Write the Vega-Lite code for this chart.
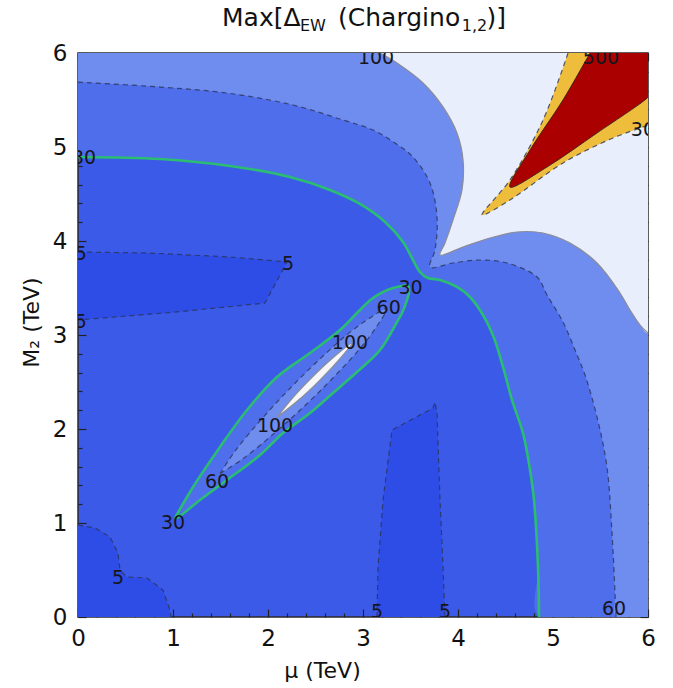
{
  "$schema": "https://vega.github.io/schema/vega-lite/v6.json",
  "width": 570,
  "height": 564,
  "autosize": {"type": "none"},
  "padding": {"left": 78, "top": 53, "right": 25, "bottom": 71},
  "background": "white",
  "config": {
    "view": {"stroke": "#2a2a2a", "strokeWidth": 1.5, "fill": "#3c5ae8"},
    "font": "DejaVu Sans",
    "axis": {"domain": false, "grid": false, "tickColor": "#222222", "tickWidth": 1.2, "labelFont": "DejaVu Sans", "labelFontSize": 23, "labelColor": "#111111", "titleFont": "DejaVu Sans", "titleFontSize": 22, "titleFontWeight": "normal", "titleColor": "#111111"}
  },
  "datasets": {
    "poly": [
      {"g":"a5","lvl":"lt5","i":0,"mu":0,"m2":3.883,"k":1},
      {"g":"a5","lvl":"lt5","i":1,"mu":0.758,"m2":3.872,"k":1},
      {"g":"a5","lvl":"lt5","i":2,"mu":1.6,"m2":3.83,"k":1},
      {"g":"a5","lvl":"lt5","i":3,"mu":2.2,"m2":3.777,"k":1},
      {"g":"a5","lvl":"lt5","i":4,"mu":1.968,"m2":3.34,"k":1},
      {"g":"a5","lvl":"lt5","i":5,"mu":1.042,"m2":3.245,"k":1},
      {"g":"a5","lvl":"lt5","i":6,"mu":0,"m2":3.16,"k":1},
      {"g":"b5","lvl":"lt5","i":0,"mu":0,"m2":0.979,"k":1},
      {"g":"b5","lvl":"lt5","i":1,"mu":0.179,"m2":0.947,"k":1},
      {"g":"b5","lvl":"lt5","i":2,"mu":0.337,"m2":0.851,"k":1},
      {"g":"b5","lvl":"lt5","i":3,"mu":0.421,"m2":0.681,"k":1},
      {"g":"b5","lvl":"lt5","i":4,"mu":0.442,"m2":0.5,"k":1},
      {"g":"b5","lvl":"lt5","i":5,"mu":0.516,"m2":0.426,"k":1},
      {"g":"b5","lvl":"lt5","i":6,"mu":0.726,"m2":0.415,"k":1},
      {"g":"b5","lvl":"lt5","i":7,"mu":0.895,"m2":0.287,"k":1},
      {"g":"b5","lvl":"lt5","i":8,"mu":0.968,"m2":0.074,"k":1},
      {"g":"b5","lvl":"lt5","i":9,"mu":0.979,"m2":0,"k":1},
      {"g":"b5","lvl":"lt5","i":10,"mu":0,"m2":0,"k":0},
      {"g":"c5","lvl":"lt5","i":0,"mu":3.147,"m2":0,"k":1},
      {"g":"c5","lvl":"lt5","i":1,"mu":3.158,"m2":0.532,"k":1},
      {"g":"c5","lvl":"lt5","i":2,"mu":3.211,"m2":1.245,"k":1},
      {"g":"c5","lvl":"lt5","i":3,"mu":3.305,"m2":1.989,"k":1},
      {"g":"c5","lvl":"lt5","i":4,"mu":3.737,"m2":2.223,"k":1},
      {"g":"c5","lvl":"lt5","i":5,"mu":3.758,"m2":2.287,"k":1},
      {"g":"c5","lvl":"lt5","i":6,"mu":3.779,"m2":2.17,"k":1},
      {"g":"c5","lvl":"lt5","i":7,"mu":3.811,"m2":1.245,"k":1},
      {"g":"c5","lvl":"lt5","i":8,"mu":3.842,"m2":0.532,"k":1},
      {"g":"c5","lvl":"lt5","i":9,"mu":3.863,"m2":0,"k":1},

      {"g":"a30","lvl":"ge30","i":0,"mu":0,"m2":4.894,"k":1},
      {"g":"a30","lvl":"ge30","i":1,"mu":0.863,"m2":4.872,"k":1},
      {"g":"a30","lvl":"ge30","i":2,"mu":1.6,"m2":4.798,"k":1},
      {"g":"a30","lvl":"ge30","i":3,"mu":2.232,"m2":4.681,"k":1},
      {"g":"a30","lvl":"ge30","i":4,"mu":2.653,"m2":4.543,"k":1},
      {"g":"a30","lvl":"ge30","i":5,"mu":2.968,"m2":4.394,"k":1},
      {"g":"a30","lvl":"ge30","i":6,"mu":3.232,"m2":4.202,"k":1},
      {"g":"a30","lvl":"ge30","i":7,"mu":3.421,"m2":3.989,"k":1},
      {"g":"a30","lvl":"ge30","i":8,"mu":3.537,"m2":3.777,"k":1},
      {"g":"a30","lvl":"ge30","i":9,"mu":3.6,"m2":3.67,"k":1},
      {"g":"a30","lvl":"ge30","i":10,"mu":3.684,"m2":3.606,"k":1},
      {"g":"a30","lvl":"ge30","i":11,"mu":3.811,"m2":3.585,"k":1},
      {"g":"a30","lvl":"ge30","i":12,"mu":3.989,"m2":3.511,"k":1},
      {"g":"a30","lvl":"ge30","i":13,"mu":4.126,"m2":3.404,"k":1},
      {"g":"a30","lvl":"ge30","i":14,"mu":4.263,"m2":3.213,"k":1},
      {"g":"a30","lvl":"ge30","i":15,"mu":4.379,"m2":2.968,"k":1},
      {"g":"a30","lvl":"ge30","i":16,"mu":4.474,"m2":2.66,"k":1},
      {"g":"a30","lvl":"ge30","i":17,"mu":4.568,"m2":2.309,"k":1},
      {"g":"a30","lvl":"ge30","i":18,"mu":4.684,"m2":1.957,"k":1},
      {"g":"a30","lvl":"ge30","i":19,"mu":4.758,"m2":1.564,"k":1},
      {"g":"a30","lvl":"ge30","i":20,"mu":4.8,"m2":1.245,"k":1},
      {"g":"a30","lvl":"ge30","i":21,"mu":4.842,"m2":0.532,"k":1},
      {"g":"a30","lvl":"ge30","i":22,"mu":4.853,"m2":0,"k":1},
      {"g":"a30","lvl":"ge30","i":23,"mu":6,"m2":0,"k":0},
      {"g":"a30","lvl":"ge30","i":24,"mu":6,"m2":6,"k":0},
      {"g":"a30","lvl":"ge30","i":25,"mu":0,"m2":6,"k":0},

      {"g":"b30","lvl":"ge30","i":0,"mu":1.021,"m2":1.053,"k":1},
      {"g":"b30","lvl":"ge30","i":1,"mu":1.211,"m2":1.383,"k":1},
      {"g":"b30","lvl":"ge30","i":2,"mu":1.495,"m2":1.809,"k":1},
      {"g":"b30","lvl":"ge30","i":3,"mu":1.779,"m2":2.202,"k":1},
      {"g":"b30","lvl":"ge30","i":4,"mu":2.095,"m2":2.553,"k":1},
      {"g":"b30","lvl":"ge30","i":5,"mu":2.442,"m2":2.809,"k":1},
      {"g":"b30","lvl":"ge30","i":6,"mu":2.758,"m2":3.053,"k":1},
      {"g":"b30","lvl":"ge30","i":7,"mu":2.968,"m2":3.266,"k":1},
      {"g":"b30","lvl":"ge30","i":8,"mu":3.105,"m2":3.394,"k":1},
      {"g":"b30","lvl":"ge30","i":9,"mu":3.316,"m2":3.5,"k":1},
      {"g":"b30","lvl":"ge30","i":10,"mu":3.474,"m2":3.521,"k":1},
      {"g":"b30","lvl":"ge30","i":11,"mu":3.484,"m2":3.457,"k":1},
      {"g":"b30","lvl":"ge30","i":12,"mu":3.463,"m2":3.372,"k":1},
      {"g":"b30","lvl":"ge30","i":13,"mu":3.411,"m2":3.234,"k":1},
      {"g":"b30","lvl":"ge30","i":14,"mu":3.358,"m2":3.138,"k":1},
      {"g":"b30","lvl":"ge30","i":15,"mu":3.179,"m2":2.84,"k":1},
      {"g":"b30","lvl":"ge30","i":16,"mu":2.937,"m2":2.606,"k":1},
      {"g":"b30","lvl":"ge30","i":17,"mu":2.684,"m2":2.383,"k":1},
      {"g":"b30","lvl":"ge30","i":18,"mu":2.442,"m2":2.17,"k":1},
      {"g":"b30","lvl":"ge30","i":19,"mu":2.158,"m2":1.957,"k":1},
      {"g":"b30","lvl":"ge30","i":20,"mu":1.916,"m2":1.723,"k":1},
      {"g":"b30","lvl":"ge30","i":21,"mu":1.568,"m2":1.457,"k":1},
      {"g":"b30","lvl":"ge30","i":22,"mu":1.284,"m2":1.245,"k":1},
      {"g":"b30","lvl":"ge30","i":23,"mu":1.042,"m2":1.053,"k":1},
      {"g":"b30","lvl":"ge30","i":24,"mu":1.021,"m2":1.053,"k":1},

      {"g":"a60","lvl":"ge60","i":0,"mu":0,"m2":5.691,"k":1},
      {"g":"a60","lvl":"ge60","i":1,"mu":0.863,"m2":5.638,"k":1},
      {"g":"a60","lvl":"ge60","i":2,"mu":1.568,"m2":5.574,"k":1},
      {"g":"a60","lvl":"ge60","i":3,"mu":2.263,"m2":5.447,"k":1},
      {"g":"a60","lvl":"ge60","i":4,"mu":2.789,"m2":5.287,"k":1},
      {"g":"a60","lvl":"ge60","i":5,"mu":3.105,"m2":5.181,"k":1},
      {"g":"a60","lvl":"ge60","i":6,"mu":3.337,"m2":5.043,"k":1},
      {"g":"a60","lvl":"ge60","i":7,"mu":3.526,"m2":4.894,"k":1},
      {"g":"a60","lvl":"ge60","i":8,"mu":3.705,"m2":4.617,"k":1},
      {"g":"a60","lvl":"ge60","i":9,"mu":3.779,"m2":4.255,"k":1},
      {"g":"a60","lvl":"ge60","i":10,"mu":3.758,"m2":3.904,"k":1},
      {"g":"a60","lvl":"ge60","i":11,"mu":3.705,"m2":3.723,"k":1},
      {"g":"a60","lvl":"ge60","i":12,"mu":3.947,"m2":3.766,"k":1},
      {"g":"a60","lvl":"ge60","i":13,"mu":4.232,"m2":3.798,"k":1},
      {"g":"a60","lvl":"ge60","i":14,"mu":4.516,"m2":3.766,"k":1},
      {"g":"a60","lvl":"ge60","i":15,"mu":4.832,"m2":3.617,"k":1},
      {"g":"a60","lvl":"ge60","i":16,"mu":4.937,"m2":3.426,"k":1},
      {"g":"a60","lvl":"ge60","i":17,"mu":5.105,"m2":3.138,"k":1},
      {"g":"a60","lvl":"ge60","i":18,"mu":5.232,"m2":2.84,"k":1},
      {"g":"a60","lvl":"ge60","i":19,"mu":5.337,"m2":2.574,"k":1},
      {"g":"a60","lvl":"ge60","i":20,"mu":5.463,"m2":2.128,"k":1},
      {"g":"a60","lvl":"ge60","i":21,"mu":5.568,"m2":1.596,"k":1},
      {"g":"a60","lvl":"ge60","i":22,"mu":5.621,"m2":0.894,"k":1},
      {"g":"a60","lvl":"ge60","i":23,"mu":5.653,"m2":0.255,"k":1},
      {"g":"a60","lvl":"ge60","i":24,"mu":5.663,"m2":0,"k":1},
      {"g":"a60","lvl":"ge60","i":25,"mu":6,"m2":0,"k":0},
      {"g":"a60","lvl":"ge60","i":26,"mu":6,"m2":6,"k":0},
      {"g":"a60","lvl":"ge60","i":27,"mu":0,"m2":6,"k":0},

      {"g":"b60","lvl":"ge60","i":0,"mu":1.495,"m2":1.525,"k":1},
      {"g":"b60","lvl":"ge60","i":1,"mu":1.658,"m2":1.772,"k":1},
      {"g":"b60","lvl":"ge60","i":2,"mu":1.929,"m2":2.101,"k":1},
      {"g":"b60","lvl":"ge60","i":3,"mu":2.215,"m2":2.415,"k":1},
      {"g":"b60","lvl":"ge60","i":4,"mu":2.515,"m2":2.715,"k":1},
      {"g":"b60","lvl":"ge60","i":5,"mu":2.829,"m2":3.001,"k":1},
      {"g":"b60","lvl":"ge60","i":6,"mu":3.058,"m2":3.172,"k":1},
      {"g":"b60","lvl":"ge60","i":7,"mu":3.25,"m2":3.28,"k":1},
      {"g":"b60","lvl":"ge60","i":8,"mu":3.142,"m2":3.088,"k":1},
      {"g":"b60","lvl":"ge60","i":9,"mu":2.971,"m2":2.859,"k":1},
      {"g":"b60","lvl":"ge60","i":10,"mu":2.685,"m2":2.545,"k":1},
      {"g":"b60","lvl":"ge60","i":11,"mu":2.385,"m2":2.245,"k":1},
      {"g":"b60","lvl":"ge60","i":12,"mu":2.071,"m2":1.959,"k":1},
      {"g":"b60","lvl":"ge60","i":13,"mu":1.742,"m2":1.688,"k":1},
      {"g":"b60","lvl":"ge60","i":14,"mu":1.495,"m2":1.525,"k":1},

      {"g":"a100","lvl":"ge100","i":0,"mu":3.179,"m2":6,"k":1},
      {"g":"a100","lvl":"ge100","i":1,"mu":3.358,"m2":5.894,"k":1},
      {"g":"a100","lvl":"ge100","i":2,"mu":3.632,"m2":5.681,"k":1},
      {"g":"a100","lvl":"ge100","i":3,"mu":3.842,"m2":5.426,"k":1},
      {"g":"a100","lvl":"ge100","i":4,"mu":3.989,"m2":5.149,"k":1},
      {"g":"a100","lvl":"ge100","i":5,"mu":4.053,"m2":4.862,"k":1},
      {"g":"a100","lvl":"ge100","i":6,"mu":4.042,"m2":4.543,"k":1},
      {"g":"a100","lvl":"ge100","i":7,"mu":3.947,"m2":4.223,"k":1},
      {"g":"a100","lvl":"ge100","i":8,"mu":3.863,"m2":3.979,"k":1},
      {"g":"a100","lvl":"ge100","i":9,"mu":3.811,"m2":3.851,"k":1},
      {"g":"a100","lvl":"ge100","i":10,"mu":4.053,"m2":3.936,"k":1},
      {"g":"a100","lvl":"ge100","i":11,"mu":4.337,"m2":4.032,"k":1},
      {"g":"a100","lvl":"ge100","i":12,"mu":4.621,"m2":4.096,"k":1},
      {"g":"a100","lvl":"ge100","i":13,"mu":4.895,"m2":4.085,"k":1},
      {"g":"a100","lvl":"ge100","i":14,"mu":5.179,"m2":3.979,"k":1},
      {"g":"a100","lvl":"ge100","i":15,"mu":5.463,"m2":3.766,"k":1},
      {"g":"a100","lvl":"ge100","i":16,"mu":5.705,"m2":3.447,"k":1},
      {"g":"a100","lvl":"ge100","i":17,"mu":5.811,"m2":3.266,"k":1},
      {"g":"a100","lvl":"ge100","i":18,"mu":5.916,"m2":3.106,"k":1},
      {"g":"a100","lvl":"ge100","i":19,"mu":6,"m2":3.02,"k":1},
      {"g":"a100","lvl":"ge100","i":20,"mu":6,"m2":6,"k":0},

      {"g":"s100","lvl":"sl","i":0,"mu":2.095,"m2":2.125,"k":1},
      {"g":"s100","lvl":"sl","i":1,"mu":2.278,"m2":2.352,"k":1},
      {"g":"s100","lvl":"sl","i":2,"mu":2.472,"m2":2.558,"k":1},
      {"g":"s100","lvl":"sl","i":3,"mu":2.678,"m2":2.752,"k":1},
      {"g":"s100","lvl":"sl","i":4,"mu":2.88,"m2":2.91,"k":1},
      {"g":"s100","lvl":"sl","i":5,"mu":2.722,"m2":2.708,"k":1},
      {"g":"s100","lvl":"sl","i":6,"mu":2.528,"m2":2.502,"k":1},
      {"g":"s100","lvl":"sl","i":7,"mu":2.322,"m2":2.308,"k":1},
      {"g":"s100","lvl":"sl","i":8,"mu":2.095,"m2":2.125,"k":1},

      {"g":"a300","lvl":"ge300","i":0,"mu":5.158,"m2":6,"k":1},
      {"g":"a300","lvl":"ge300","i":1,"mu":4.895,"m2":5.287,"k":1},
      {"g":"a300","lvl":"ge300","i":2,"mu":4.547,"m2":4.649,"k":1},
      {"g":"a300","lvl":"ge300","i":3,"mu":4.253,"m2":4.277,"k":1},
      {"g":"a300","lvl":"ge300","i":4,"mu":4.547,"m2":4.436,"k":1},
      {"g":"a300","lvl":"ge300","i":5,"mu":5.105,"m2":4.83,"k":1},
      {"g":"a300","lvl":"ge300","i":6,"mu":5.632,"m2":5.096,"k":1},
      {"g":"a300","lvl":"ge300","i":7,"mu":5.947,"m2":5.213,"k":1},
      {"g":"a300","lvl":"ge300","i":8,"mu":6,"m2":5.234,"k":1},
      {"g":"a300","lvl":"ge300","i":9,"mu":6,"m2":6,"k":0},

      {"g":"a500","lvl":"ge500","i":0,"mu":5.389,"m2":6,"k":1},
      {"g":"a500","lvl":"ge500","i":1,"mu":5.105,"m2":5.5,"k":1},
      {"g":"a500","lvl":"ge500","i":2,"mu":4.758,"m2":4.968,"k":1},
      {"g":"a500","lvl":"ge500","i":3,"mu":4.547,"m2":4.574,"k":1},
      {"g":"a500","lvl":"ge500","i":4,"mu":4.937,"m2":4.787,"k":1},
      {"g":"a500","lvl":"ge500","i":5,"mu":5.463,"m2":5.149,"k":1},
      {"g":"a500","lvl":"ge500","i":6,"mu":5.968,"m2":5.5,"k":1},
      {"g":"a500","lvl":"ge500","i":7,"mu":6,"m2":5.532,"k":1},
      {"g":"a500","lvl":"ge500","i":8,"mu":6,"m2":6,"k":0}
    ],
    "labs": [
      {"t":"100","mu":3.137,"m2":5.947},
      {"t":"500","mu":5.505,"m2":5.947},
      {"t":"300","mu":6.01,"m2":5.18},
      {"t":"30","mu":0.063,"m2":4.883},
      {"t":"5","mu":0.03,"m2":3.86},
      {"t":"5","mu":0.03,"m2":3.14},
      {"t":"5","mu":2.21,"m2":3.755},
      {"t":"30","mu":3.5,"m2":3.5},
      {"t":"60","mu":3.27,"m2":3.29},
      {"t":"100","mu":2.863,"m2":2.915},
      {"t":"100","mu":2.074,"m2":2.032},
      {"t":"60","mu":1.463,"m2":1.436},
      {"t":"30","mu":1.0,"m2":1.0},
      {"t":"5","mu":0.421,"m2":0.415},
      {"t":"5","mu":3.147,"m2":0.053},
      {"t":"5","mu":3.863,"m2":0.053},
      {"t":"60","mu":5.642,"m2":0.085}
    ],
    "ttl": [
      {"t":"Max[Δ","part":"main","mu":1.516,"m2":6.287},
      {"t":"EW","part":"sub","mu":2.337,"m2":6.234},
      {"t":"(Chargino","part":"main","mu":2.737,"m2":6.287},
      {"t":"1,2","part":"sub","mu":4.04,"m2":6.234},
      {"t":")]","part":"main","mu":4.3,"m2":6.287}
    ]
  },
  "encoding": {
    "x": {"field": "mu", "type": "quantitative", "scale": {"domain": [0, 6], "nice": false}, "axis": null},
    "y": {"field": "m2", "type": "quantitative", "scale": {"domain": [0, 6], "nice": false}, "axis": null}
  },
  "layer": [
    {
      "data": {"name": "poly"},
      "transform": [{"filter": "datum.lvl == 'lt5'"}],
      "mark": {"type": "line", "fill": "#2e4de6", "strokeWidth": 0, "strokeOpacity": 0, "interpolate": "linear", "clip": true},
      "encoding": {
        "x": {"field": "mu", "type": "quantitative", "scale": {"domain": [0, 6], "nice": false},
          "axis": {"orient": "bottom", "values": [0,0.2,0.4,0.6,0.8,1,1.2,1.4,1.6,1.8,2,2.2,2.4,2.6,2.8,3,3.2,3.4,3.6,3.8,4,4.2,4.4,4.6,4.8,5,5.2,5.4,5.6,5.8,6],
            "labelExpr": "abs(datum.value - round(datum.value)) < 0.01 ? format(datum.value, 'd') : ''",
            "tickSize": {"condition": {"test": "abs(datum.value - round(datum.value)) < 0.01", "value": -8}, "value": -4},
            "labelPadding": 18, "labelOverlap": false, "labelFlush": false, "labelBound": false,
            "title": "μ (TeV)", "titleX": 244, "titleY": 60, "titleAlign": "center", "titleBaseline": "alphabetic"}},
        "y": {"field": "m2", "type": "quantitative", "scale": {"domain": [0, 6], "nice": false},
          "axis": {"orient": "left", "values": [0,0.2,0.4,0.6,0.8,1,1.2,1.4,1.6,1.8,2,2.2,2.4,2.6,2.8,3,3.2,3.4,3.6,3.8,4,4.2,4.4,4.6,4.8,5,5.2,5.4,5.6,5.8,6],
            "labelExpr": "abs(datum.value - round(datum.value)) < 0.01 ? format(datum.value, 'd') : ''",
            "tickSize": {"condition": {"test": "abs(datum.value - round(datum.value)) < 0.01", "value": -8}, "value": -4},
            "labelPadding": 19, "labelOverlap": false, "labelFlush": false, "labelBound": false,
            "title": "M₂ (TeV)", "titleX": -40, "titleY": 269, "titleAngle": -90, "titleAlign": "center", "titleBaseline": "alphabetic"}},
        "detail": {"field": "g"},
        "order": {"field": "i", "type": "quantitative"}
      }
    },
    {
      "data": {"name": "poly"},
      "transform": [{"filter": "datum.lvl == 'ge30'"}],
      "mark": {"type": "line", "fill": "#4e6eeb", "strokeWidth": 0, "strokeOpacity": 0, "interpolate": "catmull-rom", "clip": true},
      "encoding": {
        "x": {"field": "mu", "type": "quantitative", "scale": {"domain": [0, 6], "nice": false},
          "axis": {"orient": "top", "values": [0,0.2,0.4,0.6,0.8,1,1.2,1.4,1.6,1.8,2,2.2,2.4,2.6,2.8,3,3.2,3.4,3.6,3.8,4,4.2,4.4,4.6,4.8,5,5.2,5.4,5.6,5.8,6],
            "labels": false, "title": null,
            "tickSize": {"condition": {"test": "abs(datum.value - round(datum.value)) < 0.01", "value": -8}, "value": -4}}},
        "y": {"field": "m2", "type": "quantitative", "scale": {"domain": [0, 6], "nice": false},
          "axis": {"orient": "right", "values": [0,0.2,0.4,0.6,0.8,1,1.2,1.4,1.6,1.8,2,2.2,2.4,2.6,2.8,3,3.2,3.4,3.6,3.8,4,4.2,4.4,4.6,4.8,5,5.2,5.4,5.6,5.8,6],
            "labels": false, "title": null,
            "tickSize": {"condition": {"test": "abs(datum.value - round(datum.value)) < 0.01", "value": -8}, "value": -4}}},
        "detail": {"field": "g"},
        "order": {"field": "i", "type": "quantitative"}
      }
    },
    {
      "data": {"name": "poly"},
      "transform": [{"filter": "datum.lvl == 'ge60'"}],
      "mark": {"type": "line", "fill": "#6f8cef", "strokeWidth": 0, "strokeOpacity": 0, "interpolate": "catmull-rom", "clip": true},
      "encoding": {"detail": {"field": "g"}, "order": {"field": "i", "type": "quantitative"}}
    },
    {
      "data": {"name": "poly"},
      "transform": [{"filter": "datum.lvl == 'ge100'"}],
      "mark": {"type": "line", "fill": "#e8eefc", "strokeWidth": 0, "strokeOpacity": 0, "interpolate": "catmull-rom", "clip": true},
      "encoding": {"detail": {"field": "g"}, "order": {"field": "i", "type": "quantitative"}}
    },
    {
      "data": {"name": "poly"},
      "transform": [{"filter": "datum.lvl == 'sl'"}],
      "mark": {"type": "line", "fill": "#f6f7fb", "strokeWidth": 0, "strokeOpacity": 0, "interpolate": "catmull-rom", "clip": true},
      "encoding": {"detail": {"field": "g"}, "order": {"field": "i", "type": "quantitative"}}
    },
    {
      "data": {"name": "poly"},
      "transform": [{"filter": "datum.lvl == 'ge300'"}],
      "mark": {"type": "line", "fill": "#efbd3c", "strokeWidth": 0, "strokeOpacity": 0, "interpolate": "catmull-rom", "clip": true},
      "encoding": {"detail": {"field": "g"}, "order": {"field": "i", "type": "quantitative"}}
    },
    {
      "data": {"name": "poly"},
      "transform": [{"filter": "datum.lvl == 'ge500'"}],
      "mark": {"type": "line", "fill": "#aa0000", "strokeWidth": 0, "strokeOpacity": 0, "interpolate": "catmull-rom", "clip": true},
      "encoding": {"detail": {"field": "g"}, "order": {"field": "i", "type": "quantitative"}}
    },
    {
      "data": {"name": "poly"},
      "transform": [{"filter": "datum.lvl == 'lt5' && datum.k == 1"}],
      "mark": {"type": "line", "stroke": "#2a3356", "strokeWidth": 1.2, "strokeOpacity": 0.8, "strokeDash": [5, 4], "interpolate": "linear", "clip": true},
      "encoding": {"detail": {"field": "g"}, "order": {"field": "i", "type": "quantitative"}}
    },
    {
      "data": {"name": "poly"},
      "transform": [{"filter": "(datum.lvl == 'ge60' || datum.lvl == 'ge300') && datum.k == 1"}],
      "mark": {"type": "line", "stroke": "#2a3356", "strokeWidth": 1.2, "strokeOpacity": 0.8, "strokeDash": [5, 4], "interpolate": "catmull-rom", "clip": true},
      "encoding": {"detail": {"field": "g"}, "order": {"field": "i", "type": "quantitative"}}
    },
    {
      "data": {"name": "poly"},
      "transform": [{"filter": "(datum.lvl == 'ge100' || datum.lvl == 'sl') && datum.k == 1"}],
      "mark": {"type": "line", "stroke": "#8c8c96", "strokeWidth": 1.2, "interpolate": "catmull-rom", "clip": true},
      "encoding": {"detail": {"field": "g"}, "order": {"field": "i", "type": "quantitative"}}
    },
    {
      "data": {"name": "poly"},
      "transform": [{"filter": "datum.lvl == 'ge500' && datum.k == 1"}],
      "mark": {"type": "line", "stroke": "#3a2020", "strokeWidth": 0.9, "interpolate": "catmull-rom", "clip": true},
      "encoding": {"detail": {"field": "g"}, "order": {"field": "i", "type": "quantitative"}}
    },
    {
      "data": {"name": "poly"},
      "transform": [{"filter": "datum.lvl == 'ge30' && datum.k == 1"}],
      "mark": {"type": "line", "stroke": "#2bbd72", "strokeWidth": 2.6, "interpolate": "catmull-rom", "clip": true},
      "encoding": {"detail": {"field": "g"}, "order": {"field": "i", "type": "quantitative"}}
    },
    {
      "data": {"name": "labs"},
      "mark": {"type": "text", "fontSize": 19, "font": "DejaVu Sans", "color": "#16161e", "clip": true},
      "encoding": {"text": {"field": "t"}}
    },
    {
      "data": {"name": "ttl"},
      "transform": [{"filter": "datum.part == 'main'"}],
      "mark": {"type": "text", "fontSize": 25, "font": "DejaVu Sans", "align": "left", "baseline": "alphabetic", "color": "#111111"},
      "encoding": {"text": {"field": "t"}}
    },
    {
      "data": {"name": "ttl"},
      "transform": [{"filter": "datum.part == 'sub'"}],
      "mark": {"type": "text", "fontSize": 16, "font": "DejaVu Sans", "align": "left", "baseline": "alphabetic", "color": "#111111"},
      "encoding": {"text": {"field": "t"}}
    }
  ],
  "resolve": {"axis": {"x": "independent", "y": "independent"}}
}
